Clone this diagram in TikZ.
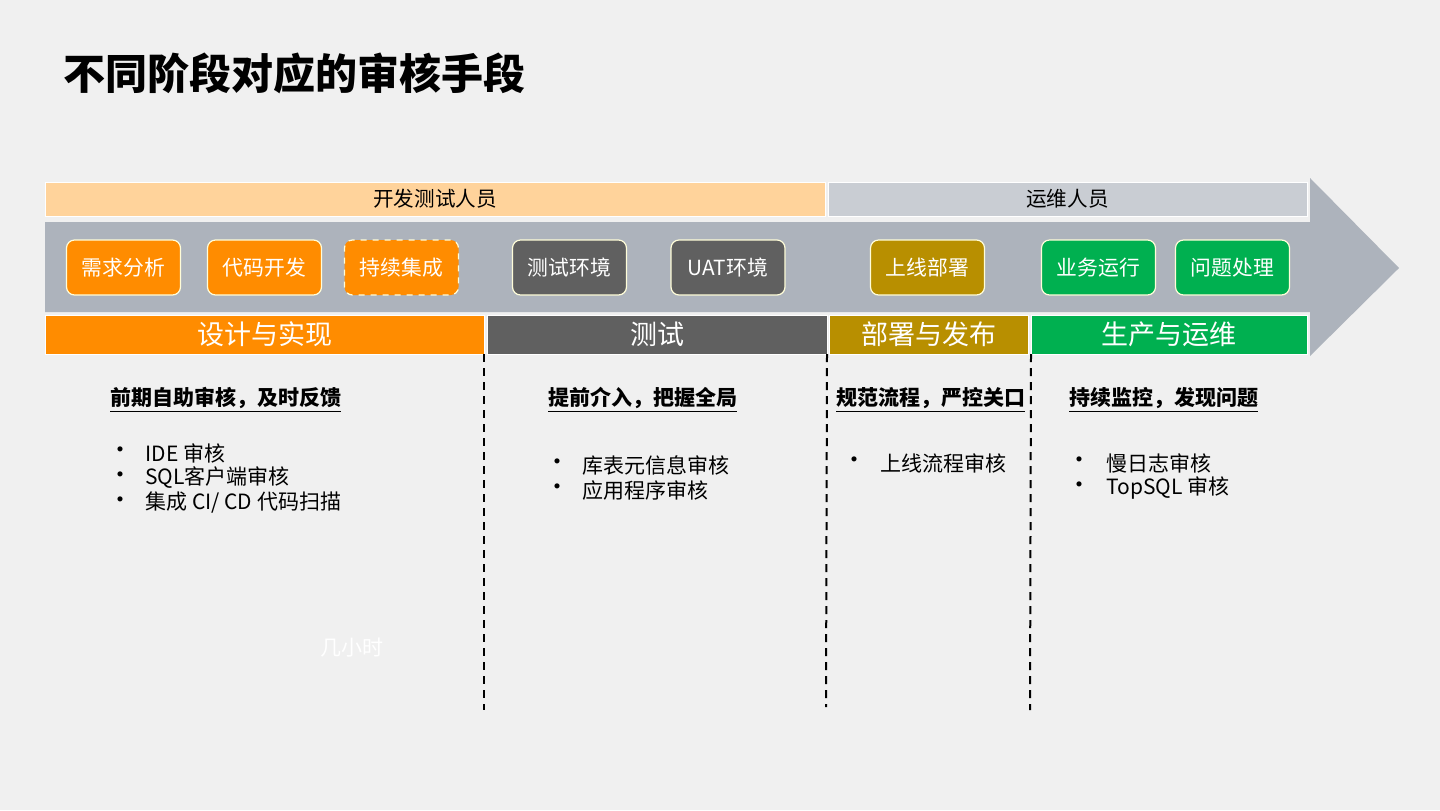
\documentclass[tikz,border=0pt]{standalone}
\usepackage{fontspec}
\setmainfont{Noto Sans CJK SC}
\usepackage{tikz}
\usetikzlibrary{positioning}

\definecolor{pagebg}{HTML}{F0F0F0}
\definecolor{devpeach}{HTML}{FFD39B}
\definecolor{opsgray}{HTML}{C9CDD3}
\definecolor{arrowgray}{HTML}{ADB3BC}
\definecolor{implorange}{HTML}{FF8C00}
\definecolor{testgray}{HTML}{606060}
\definecolor{deployolive}{HTML}{B88F00}
\definecolor{prodgreen}{HTML}{00B050}

\begin{document}
\begin{tikzpicture}[
    x=0.5pt, y=-0.5pt,
    band/.style={rectangle, draw=white, line width=0.5pt, inner sep=0pt, outer sep=0pt, minimum height=17pt, font=\fontsize{10.3}{12}\selectfont},
    phase/.style={rectangle, draw=white, line width=0.5pt, inner sep=0pt, outer sep=0pt, minimum height=19.5pt, text=white, font=\fontsize{13.5}{15}\selectfont},
    stage/.style={rectangle, rounded corners=4pt, draw=white!85!yellow, line width=0.6pt, inner sep=0pt, minimum width=57pt, minimum height=27.5pt, text=white, font=\fontsize{10.4}{12}\selectfont},
    heading/.style={anchor=west, inner sep=0pt, font=\fontsize{10.5}{12}\selectfont\bfseries},
    item/.style={anchor=west, inner sep=0pt, font=\fontsize{10.5}{12}\selectfont},
    dot/.style={anchor=west, inner sep=0pt, font=\fontsize{12}{12}\selectfont},
    sep/.style={dashed, line width=1pt, dash pattern=on 4pt off 3pt}
]
    \useasboundingbox[fill=pagebg] (0,0) rectangle (1440,810);

    % title
    \node[anchor=west, inner sep=0pt, font=\fontsize{21}{24}\selectfont\bfseries] (title) at (63,73) {不同阶段对应的审核手段};

    % big arrow
    \fill[arrowgray] (45,222) -- (1310,222) -- (1310,178) -- (1399,268) -- (1310,356) -- (1310,312) -- (45,312) -- cycle;

    % people bands
    \node[band, fill=devpeach, minimum width=390pt] (dev) at (435,199) {开发测试人员};
    \node[band, fill=opsgray, minimum width=239.5pt] (ops) at (1067.5,199) {运维人员};

    % stages on the arrow
    \node[stage, fill=implorange] (req) at (123.5,267.5) {需求分析};
    \node[stage, fill=implorange] (code) at (264.5,267.5) {代码开发};
    \node[stage, fill=implorange, dashed] (ci) at (401.5,267.5) {持续集成};
    \node[stage, fill=testgray] (testenv) at (569.5,267.5) {测试环境};
    \node[stage, fill=testgray] (uat) at (728,267.5) {UAT环境};
    \node[stage, fill=deployolive] (golive) at (927.5,267.5) {上线部署};
    \node[stage, fill=prodgreen] (run) at (1098.5,267.5) {业务运行};
    \node[stage, fill=prodgreen] (fix) at (1232.5,267.5) {问题处理};

    % phases
    \node[phase, fill=implorange, minimum width=219.5pt] (impl) at (264.5,334.5) {设计与实现};
    \node[phase, fill=testgray, minimum width=170pt] (test) at (657,334.5) {测试};
    \node[phase, fill=deployolive, minimum width=99.5pt] (deploy) at (928.5,334.5) {部署与发布};
    \node[phase, fill=prodgreen, minimum width=138pt] (prod) at (1169,334.5) {生产与运维};

    % separators
    \coordinate (sepA) at (484,710);
    \coordinate (sepB) at (826,707);
    \coordinate (sepC) at (1030,710);
    \draw[sep] (impl.south east) -- (sepA);
    \draw[sep] (test.south east) -- (sepB);
    \draw[sep] (prod.south west) -- (sepC);

    % design & implementation
    \node[heading] (implhead) at (110,400) {\underline{前期自助审核，及时反馈}};
    \node[dot] (implb1) at (108,453) {•};
    \node[item] (impli1) at (145,453) {IDE 审核};
    \node[dot] (implb2) at (108,478) {•};
    \node[item] (impli2) at (145,478) {SQL客户端审核};
    \node[dot] (implb3) at (108,503) {•};
    \node[item] (impli3) at (145,503) {集成 CI/ CD 代码扫描};
    \node[item, text=white] (hours) at (320,648) {几小时};

    % test
    \node[heading] (testhead) at (548,400) {\underline{提前介入，把握全局}};
    \node[dot] (testb1) at (545,465) {•};
    \node[item] (testi1) at (582,465) {库表元信息审核};
    \node[dot] (testb2) at (545,490) {•};
    \node[item] (testi2) at (582,490) {应用程序审核};

    % deploy
    \node[heading] (deployhead) at (836,400) {\underline{规范流程，严控关口}};
    \node[dot] (deployb1) at (842,463) {•};
    \node[item] (deployi1) at (880,463) {上线流程审核};

    % production
    \node[heading] (prodhead) at (1069,400) {\underline{持续监控，发现问题}};
    \node[dot] (prodb1) at (1067,463) {•};
    \node[item] (prodi1) at (1106,463) {慢日志审核};
    \node[dot] (prodb2) at (1067,488) {•};
    \node[item] (prodi2) at (1106,488) {TopSQL 审核};
\end{tikzpicture}
\end{document}
